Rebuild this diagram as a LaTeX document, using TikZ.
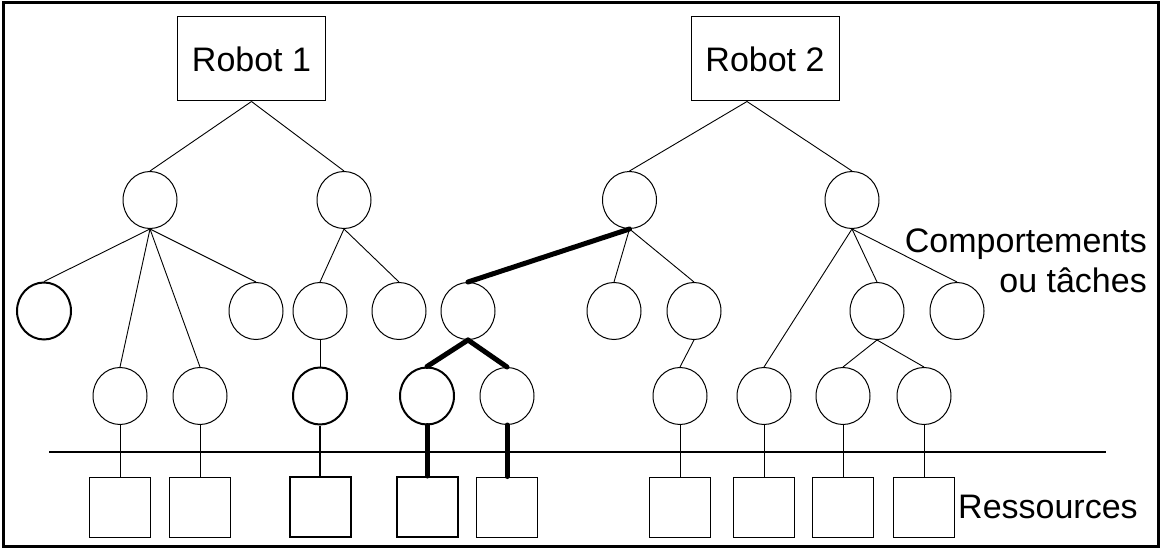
\documentclass[tikz,border=0pt]{standalone}
\usepackage{fontspec}
\setmainfont{Liberation Sans}
\usetikzlibrary{shapes}

\begin{document}
\begin{tikzpicture}[x=1pt, y=-1pt,
                    every node/.style={font=\fontsize{34}{40}\selectfont},
                    robot/.style={draw, line width=1pt, minimum width=148pt, minimum height=84pt, inner sep=0pt},
                    task/.style={ellipse, draw, line width=1pt, minimum width=54pt, minimum height=57pt, inner sep=0pt},
                    res/.style={draw, line width=1pt, minimum width=61pt, minimum height=60pt, inner sep=0pt},
                    heavy/.style={line width=2pt},
                    mythin/.style={line width=0.9pt},
                    mymid/.style={line width=2pt},
                    mybold/.style={line width=5pt, line cap=round},
                   ]

\useasboundingbox (0,0) rectangle (1162,548);
\draw[line width=3pt] (3,3) rectangle (1158,546);

% robots
\node[robot] (r1) at (251.5,59) {Robot 1};
\node[robot] (r2) at (765,59) {Robot 2};
\coordinate (r2b) at ([xshift=-18pt]r2.south);

% behaviours, first level
\node[task] (a) at (150,200) {};
\node[task] (b) at (344,200) {};
\node[task] (c) at (629.5,200) {};
\node[task] (d) at (852,200) {};

% second level
\node[task, heavy] (c1) at (44,311) {};
\node[task] (c2) at (256,311) {};
\node[task] (c3) at (320,311) {};
\node[task] (c4) at (399,311) {};
\node[task] (c5) at (468,311) {};
\node[task] (c6) at (614,311) {};
\node[task] (c7) at (694,311) {};
\node[task] (c8) at (877,311) {};
\node[task] (c9) at (957,311) {};

% third level
\node[task] (d1) at (120,396) {};
\node[task] (d2) at (200,396) {};
\node[task, heavy] (d3) at (320,396) {};
\node[task, heavy] (d4) at (427,396) {};
\node[task] (d5) at (507,396) {};
\node[task] (d6) at (680,396) {};
\node[task] (d7) at (764,396) {};
\node[task] (d8) at (843,396) {};
\node[task] (d9) at (924,396) {};

% resources
\draw[line width=2pt] (49,452) -- (1106,452);
\node[res] (s1) at (120,507) {};
\node[res] (s2) at (200,507) {};
\node[res, heavy] (s3) at (320,507) {};
\node[res, heavy] (s4) at (427,507) {};
\node[res] (s5) at (507,507) {};
\node[res] (s6) at (680,507) {};
\node[res] (s7) at (764,507) {};
\node[res] (s8) at (843,507) {};
\node[res] (s9) at (924,507) {};

% tree links
\draw[mythin] (r1.south) -- (a.north);
\draw[mythin] (r1.south) -- (b.north);
\draw[mythin] (r2b) -- (c.north);
\draw[mythin] (r2b) -- (d.north);

\draw[mythin] (a.south) -- (c1.north);
\draw[mythin] (a.south) -- (d1.north);
\draw[mythin] (a.south) -- (d2.north);
\draw[mythin] (a.south) -- (c2.north);
\draw[mythin] (b.south) -- (c3.north);
\draw[mythin] (b.south) -- (c4.north);
\draw[mybold] (c.south) -- (c5.north);
\draw[mythin] (c.south) -- (c6.north);
\draw[mythin] (c.south) -- (c7.north);
\draw[mythin] (d.south) -- (d7.north);
\draw[mythin] (d.south) -- (c8.north);
\draw[mythin] (d.south) -- (c9.north);

\draw[mythin] (c3.south) -- (d3.north);
\draw[mybold] (c5.south) -- (d4.north);
\draw[mybold] (c5.south) -- (d5.north);
\draw[mythin] (c7.south) -- (d6.north);
\draw[mythin] (c8.south) -- (d8.north);
\draw[mythin] (c8.south) -- (d9.north);

% down to the resources
\foreach \i in {1,2,6,7,8,9}
  \draw[mythin] (d\i.south) -- (s\i.north);
\draw[mymid] (d3.south) -- (s3.north);
\draw[mybold] (d4.south) -- (s4.north);
\draw[mybold] (d5.south) -- (s5.north);

% labels
\node[anchor=base east, inner sep=0pt] (comp) at (1147,252) {Comportements};
\node[anchor=base east, inner sep=0pt] (ou) at (1147,292) {ou tâches};
\node[anchor=base west, inner sep=0pt] (ress) at (958,518) {Ressources};

\end{tikzpicture}
\end{document}
